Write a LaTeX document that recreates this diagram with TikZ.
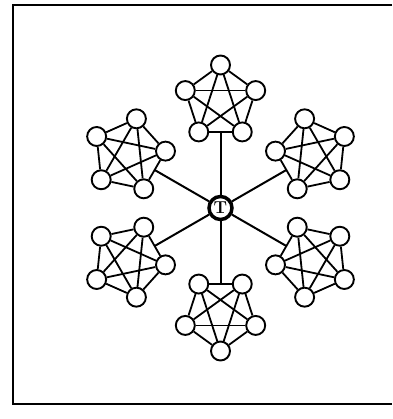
\documentclass[tikz,border=0pt]{standalone}
\begin{document}
\begin{tikzpicture}[x=1pt,y=1pt,
  peer/.style={circle,draw,line width=1.9pt,minimum size=19pt,inner sep=0pt,fill=white},
  link/.style={line width=1.8pt},
  spoke/.style={line width=2pt},
  hub/.style={circle,draw,line width=3.5pt,minimum size=23pt,inner sep=0pt,font=\bfseries\LARGE},
  frame/.style={line width=1.8pt}]
\useasboundingbox (0,0) rectangle (392,419);
\draw[frame] (392,414) -- (13,414) -- (13,15) -- (392,15);
\node[hub] (T) at (220.5,211) {T};
\foreach \i in {1,...,6}{
  \pgfmathsetmacro\ang{90-60*(\i-1)}
  \pgfmathsetmacro\cx{220.5+106*cos(\ang)}
  \pgfmathsetmacro\cy{211+106*sin(\ang)}
  \foreach \k in {0,...,4}{
    \node[peer] (n\i\k) at ({\cx+37*cos(\ang+72*\k)},{\cy+37*sin(\ang+72*\k)}) {};
  }
  \foreach \a/\b in {0/1,0/2,0/3,0/4,1/2,1/3,1/4,2/3,2/4,3/4}{
    \draw[link] (n\i\a) -- (n\i\b);
  }
  \coordinate (m\i) at ({\cx+30*cos(\ang+180)},{\cy+30*sin(\ang+180)});
  \draw[spoke] (T) -- (m\i);
}
\end{tikzpicture}
\end{document}
